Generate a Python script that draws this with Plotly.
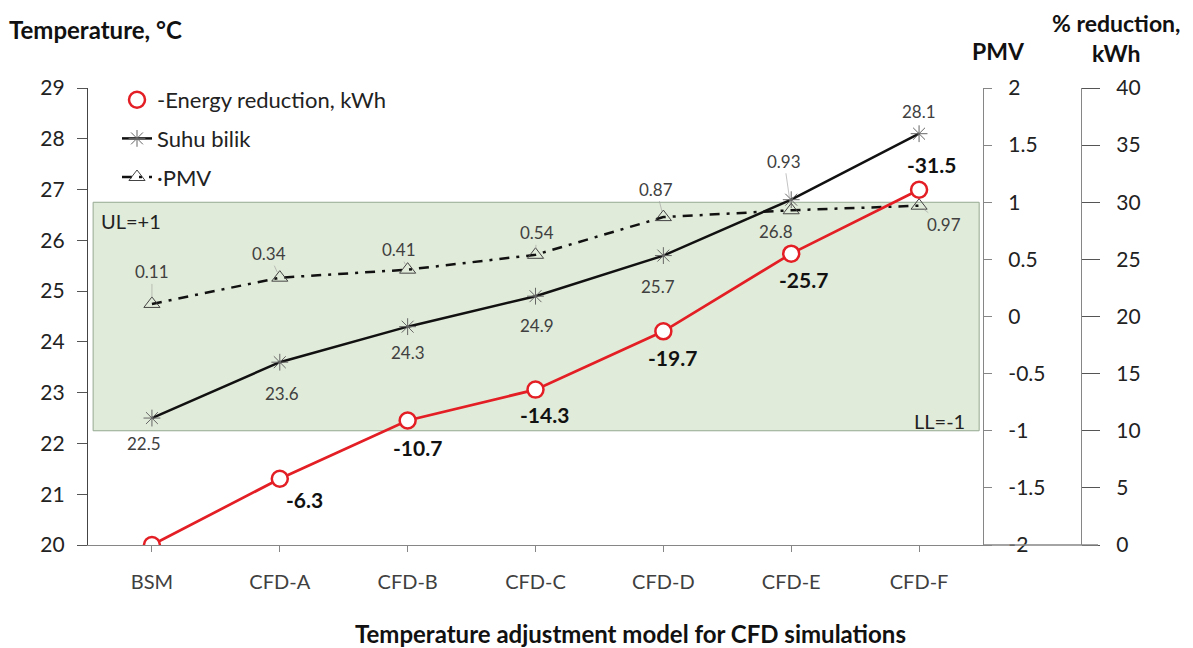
import plotly.graph_objects as go

categories = ["BSM", "CFD-A", "CFD-B", "CFD-C", "CFD-D", "CFD-E", "CFD-F"]
suhu_bilik = [22.5, 23.6, 24.3, 24.9, 25.7, 26.8, 28.1]
pmv = [0.11, 0.34, 0.41, 0.54, 0.87, 0.93, 0.97]
energy_pct = [0, 5.8, 10.9, 13.6, 18.7, 25.5, 31.1]
energy_labels = ["", "-6.3", "-10.7", "-14.3", "-19.7", "-25.7", "-31.5"]
pmv_ticks = [-2, -1.5, -1, -0.5, 0, 0.5, 1, 1.5, 2]
temp_ticks = [20, 21, 22, 23, 24, 25, 26, 27, 28, 29]
pct_ticks = [0, 5, 10, 15, 20, 25, 30, 35, 40]

FONT = "Lato, 'Open Sans', sans-serif"
# page body has an 8px margin, so the figure is laid out 8px smaller
W, H = 1185, 640
L, R, T, B = 80, 112, 80, 103
PW = W - L - R
PH = H - T - B
XEND = 983  # reference pixel of the PMV axis

def px(x):
    """reference pixel x -> paper x"""
    return (x - 88) / PW

def py(y):
    """reference pixel y -> paper y"""
    return (545 - y) / PH

RED = "#E31E24"
fig = go.Figure()

fig.add_trace(go.Scatter(
    x=categories, y=energy_pct, yaxis="y3", name="-Energy reduction, kWh",
    mode="lines+markers", showlegend=False,
    line=dict(color=RED, width=2.7),
    marker=dict(symbol="circle", size=16, color="white", line=dict(color=RED, width=2.5)),
))
fig.add_trace(go.Scatter(
    x=categories, y=suhu_bilik, yaxis="y", name="Suhu bilik",
    mode="lines+markers", legendgroup="b",
    line=dict(color="#111111", width=2.5),
    marker=dict(symbol="asterisk-open", size=14, color="#666666", line=dict(color="#666666", width=1)),
))
fig.add_trace(go.Scatter(
    x=categories, y=pmv, yaxis="y2", name="·PMV",
    mode="lines+markers", legendgroup="c",
    line=dict(color="#111111", width=2.5, dash="10px,7px,3px,7px"),
    marker=dict(symbol="triangle-up-open", size=14, color="#444444", line=dict(color="#444444", width=1)),
))
# legend entry for energy: marker only, as in the original legend
fig.add_trace(go.Scatter(
    x=[None], y=[None], yaxis="y3", name="-Energy reduction, kWh", mode="markers",
    legendgroup="a", legendrank=1,
    marker=dict(symbol="circle", size=16, color="white", line=dict(color=RED, width=2.5)),
))
fig.data[1].legendrank = 2
fig.data[2].legendrank = 3

# comfort band (PMV -1 to +1)
fig.add_shape(type="rect", xref="x", yref="y2", x0=-0.46, x1=6.47, y0=-1, y1=1,
              fillcolor="#E1EBD9", line=dict(color="#94A890", width=1), layer="below")

# extension of baseline to the far right axis
fig.add_shape(type="line", xref="paper", yref="paper", x0=px(XEND), x1=px(1098), y0=0, y1=0,
              line=dict(color="#868686", width=1.3))

ann = []
LBL = dict(family=FONT, size=17, color="#404040")
# Suhu bilik labels
temp_off = [(-8, -25), (2, -31), (0, -26), (1, -29), (-5, -31), (-15, -32), (0, 22)]
for c, v, (dx, dy) in zip(categories, suhu_bilik, temp_off):
    ann.append(dict(x=c, y=v, yref="y", text=f"{v}", showarrow=False, xshift=dx, yshift=dy, font=LBL))
# PMV labels with leader lines
pmv_off = [(0, -32), (-11, -24), (-9, -20), (1, -22), (-7, -28), (-7, -49), (25, 19)]
for c, v, (dx, dy) in zip(categories, pmv, pmv_off):
    ann.append(dict(x=c, y=v, yref="y2", text=f"{v}", showarrow=True, ax=dx, ay=dy,
                    arrowhead=0, arrowwidth=0.6, arrowcolor="#9a9a9a", standoff=6, font=LBL))
# Energy labels
en_off = [(0, 0), (25, -21), (10, -27), (9, -25), (9, -26), (12, -26), (12, 25)]
for c, v, t, (dx, dy) in zip(categories, energy_pct, energy_labels, en_off):
    if t:
        ann.append(dict(x=c, y=v, yref="y3", text=f"<b>{t}</b>", showarrow=False, xshift=dx, yshift=dy,
                        font=dict(family=FONT, size=21, color="#111111")))

TITLE = dict(family=FONT, size=24, color="#111111")
ann += [
    dict(x=px(99), y=py(221), xref="paper", yref="paper", text="UL=+1", showarrow=False,
         xanchor="left", yanchor="middle", font=dict(family=FONT, size=20, color="#222222")),
    dict(x=px(967), y=py(421), xref="paper", yref="paper", text="LL=-1", showarrow=False,
         xanchor="right", yanchor="middle", font=dict(family=FONT, size=20, color="#222222")),
    dict(x=px(7), y=py(30), xref="paper", yref="paper", text="<b>Temperature, °C</b>", showarrow=False,
         xanchor="left", yanchor="middle", font=TITLE),
    dict(x=px(998), y=py(51), xref="paper", yref="paper", text="<b>PMV</b>", showarrow=False,
         xanchor="center", yanchor="middle", font=dict(family=FONT, size=23, color="#111111")),
    dict(x=px(1116), y=py(38), xref="paper", yref="paper", text="<b>% reduction,<br>kWh</b>", showarrow=False,
         xanchor="center", yanchor="middle", font=dict(family=FONT, size=23, color="#111111")),
    dict(x=px(630), y=py(633), xref="paper", yref="paper",
         text="<b>Temperature adjustment model for CFD simulations</b>", showarrow=False,
         xanchor="center", yanchor="middle", font=TITLE),
]

TICKF = dict(family=FONT, size=21, color="#222222")
fig.update_layout(
    width=W, height=H,
    margin=dict(l=L, r=R, t=T, b=B),
    paper_bgcolor="white", plot_bgcolor="white",
    font=dict(family=FONT, size=17, color="#333333"),
    showlegend=True,
    legend=dict(x=px(117), y=py(79), xanchor="left", yanchor="top", bgcolor="rgba(0,0,0,0)",
                font=dict(family=FONT, size=22, color="#222222"), tracegroupgap=7,
                traceorder="grouped", itemwidth=30),
    xaxis=dict(domain=[0, px(XEND)], type="category", range=[-0.5, 6.5], showgrid=False,
               showline=True, linecolor="#868686", linewidth=1.3, ticks="outside", ticklen=6,
               tickcolor="#868686", tickfont=dict(family=FONT, size=20, color="#404040"),
               ticklabelstandoff=13, zeroline=False),
    yaxis=dict(range=[20, 29], tickvals=temp_ticks, ticktext=[str(t) for t in temp_ticks],
               showgrid=False, showline=True, linecolor="#444444", linewidth=1.3,
               ticks="outside", ticklen=10, tickcolor="#555555", ticklabelstandoff=8,
               tickfont=TICKF, zeroline=False),
    yaxis2=dict(range=[-2, 2], overlaying="y", side="right", anchor="x",
                tickvals=pmv_ticks, ticktext=[f"{t:g}" for t in pmv_ticks],
                showgrid=False, showline=True, linecolor="#868686", linewidth=1.3,
                ticks="outside", ticklen=8, tickcolor="#868686", ticklabelstandoff=12,
                tickfont=TICKF, zeroline=False),
    yaxis3=dict(range=[0, 40], overlaying="y", side="right", anchor="free", position=1,
                tickvals=pct_ticks, ticktext=[str(t) for t in pct_ticks],
                showgrid=False, showline=True, linecolor="#868686", linewidth=1.3,
                ticks="outside", ticklen=18, tickcolor="#555555", ticklabelstandoff=12,
                tickfont=TICKF, zeroline=False),
    annotations=ann,
)

fig.write_html("out.html")
